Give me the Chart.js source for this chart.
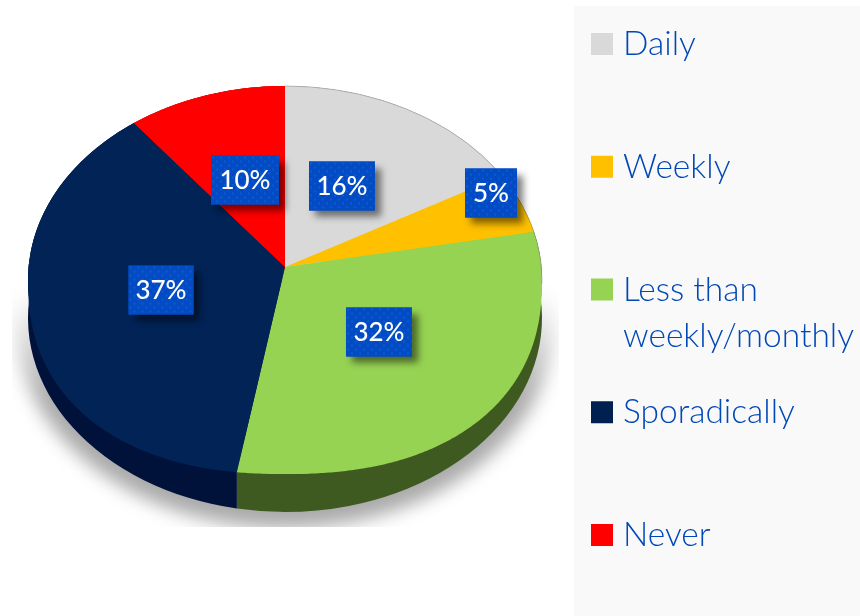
<!DOCTYPE html>
<html>
<head>
<meta charset="utf-8">
<style>html,body{margin:0;padding:0;background:#fff}canvas{display:block}</style>
<script src="https://cdn.jsdelivr.net/npm/chart.js@4"></script>
</head>
<body>
<canvas id="c" width="860" height="616" style="width:860px;height:616px"></canvas>
<script>
const categories = ['Daily', 'Weekly', 'Less than weekly/monthly', 'Sporadically', 'Never'];
const shareValues = [16, 5, 32, 37, 10];
const valueLabels = ['16%', '5%', '32%', '37%', '10%'];
const sliceColors = ['#d9d9d9', '#ffc000', '#96d353', '#012356', '#ff0000'];
const sideColors = ['#8a8a8a', '#8a6a00', '#3f5a20', '#00123a', '#8a0000'];
const legendLines = [['Daily'], ['Weekly'], ['Less than', 'weekly/monthly'], ['Sporadically'], ['Never']];

const squash = 0.755, depth = 38, apexLift = 13, bulge = 2.3;
const boxOffset = [[57, -94], [206, -87], [94, 52], [-124, 10], [-40, -100]];
const boxSize = [[66, 49], [52, 49], [66, 49], [65, 49], [68, 49]];

function slicePath(ctx, el, lift) {
  const R = el.outerRadius, ry = R * squash;
  ctx.beginPath();
  ctx.moveTo(el.x, el.y - lift);
  const steps = Math.max(2, Math.ceil((el.endAngle - el.startAngle) / 0.01));
  for (let s = 0; s <= steps; s++) {
    const a = el.startAngle + (el.endAngle - el.startAngle) * s / steps;
    const u = Math.cos(a), v = Math.sin(a);
    const w = v > 0 ? Math.pow(Math.max(0, 1 - Math.pow(Math.abs(u), bulge)), 1 / bulge) : v;
    ctx.lineTo(el.x + R * u, el.y + ry * w);
  }
  ctx.closePath();
}

const piePlugin = {
  id: 'pie3d',
  beforeDraw(chart) {
    const ctx = chart.ctx;
    ctx.save();
    ctx.fillStyle = '#ffffff';
    ctx.fillRect(0, 0, chart.width, chart.height);
    ctx.fillStyle = '#f9f9f9';
    ctx.fillRect(574, 6, 286, 610);
    ctx.restore();
  },
  beforeDatasetsDraw(chart) {
    const ctx = chart.ctx, arcs = chart.getDatasetMeta(0).data, a0 = arcs[0];
    const R = a0.outerRadius, cx = a0.x, cy = a0.y, ry = R * squash;
    // floor shadow
    ctx.save();
    ctx.beginPath();
    ctx.rect(12, 270, 547, 257);
    ctx.clip();
    ctx.filter = 'blur(9px)';
    const g = ctx.createLinearGradient(0, 290, 0, 400);
    g.addColorStop(0, 'rgba(170,170,170,0)');
    g.addColorStop(1, 'rgba(170,170,170,1)');
    ctx.fillStyle = g;
    ctx.beginPath();
    ctx.ellipse(cx, cy + 44, R + 12, ry + 10, 0, 0, Math.PI * 2);
    ctx.fill();
    ctx.restore();
    // side wall
    ctx.save();
    arcs.forEach((el, i) => {
      ctx.fillStyle = sideColors[i];
      ctx.beginPath();
      ctx.ellipse(cx, cy + depth, R, ry, 0, el.startAngle, el.endAngle);
      ctx.ellipse(cx, cy, R, ry, 0, el.endAngle, el.startAngle, true);
      ctx.closePath();
      ctx.fill();
    });
    ctx.restore();
    // library arcs drawn squashed
    ctx.save();
    ctx.translate(cx, cy);
    ctx.scale(1, squash);
    ctx.translate(-cx, -cy);
  },
  afterDatasetsDraw(chart) {
    const ctx = chart.ctx, arcs = chart.getDatasetMeta(0).data;
    ctx.restore();
    ctx.save();
    arcs.forEach((el, i) => {
      ctx.fillStyle = sliceColors[i];
      slicePath(ctx, el, apexLift);
      ctx.fill();
    });
    ctx.strokeStyle = 'rgba(110,110,110,0.4)';
    ctx.lineWidth = 1;
    ctx.beginPath();
    const a = arcs[0];
    ctx.ellipse(a.x, a.y, a.outerRadius, a.outerRadius * squash, 0, -Math.PI / 2, 0.02);
    ctx.stroke();
    ctx.restore();

    // value boxes
    const tile = document.createElement('canvas');
    tile.width = tile.height = 8;
    const t = tile.getContext('2d');
    t.fillStyle = '#034bc2';
    t.fillRect(0, 0, 8, 8);
    t.fillStyle = '#0a59d6';
    t.fillRect(1, 1, 2, 2);
    t.fillRect(5, 5, 2, 2);
    arcs.forEach((el, i) => {
      const [w, h] = boxSize[i];
      const bx = el.x + boxOffset[i][0], by = el.y + boxOffset[i][1];
      ctx.save();
      ctx.shadowColor = 'rgba(0,0,0,0.5)';
      ctx.shadowBlur = 7;
      ctx.shadowOffsetX = 6;
      ctx.shadowOffsetY = 6;
      ctx.fillStyle = '#034bc2';
      ctx.fillRect(bx - w / 2, by - h / 2, w, h);
      ctx.restore();
      ctx.save();
      ctx.translate(bx - w / 2, by - h / 2);
      ctx.fillStyle = ctx.createPattern(tile, 'repeat');
      ctx.fillRect(0, 0, w, h);
      ctx.restore();
      ctx.save();
      ctx.fillStyle = '#ffffff';
      ctx.font = '500 26px Lato';
      ctx.textAlign = 'center';
      ctx.textBaseline = 'middle';
      ctx.fillText(valueLabels[i], bx, by + 1);
      ctx.restore();
    });

    // legend
    ctx.save();
    ctx.textAlign = 'left';
    ctx.textBaseline = 'alphabetic';
    ctx.font = '300 33.5px Lato';
    categories.forEach((c, i) => {
      const top = 33 + i * 122.75;
      ctx.fillStyle = sliceColors[i] === '#012356' ? '#00204f' : sliceColors[i];
      ctx.fillRect(591, top, 22, 22);
      ctx.fillStyle = '#0048b8';
      legendLines[i].forEach((line, j) => {
        ctx.fillText(line, 623, top + 22 + j * 46);
      });
    });
    ctx.restore();
  }
};

new Chart(document.getElementById('c'), {
  type: 'pie',
  data: {
    labels: categories,
    datasets: [{ data: shareValues, backgroundColor: sliceColors, borderWidth: 0 }]
  },
  options: {
    responsive: false,
    animation: false,
    layout: { padding: { left: 28, right: 318, top: 23, bottom: 79 } },
    plugins: { legend: { display: false }, tooltip: { enabled: false } }
  },
  plugins: [piePlugin]
});
</script>
</body>
</html>
